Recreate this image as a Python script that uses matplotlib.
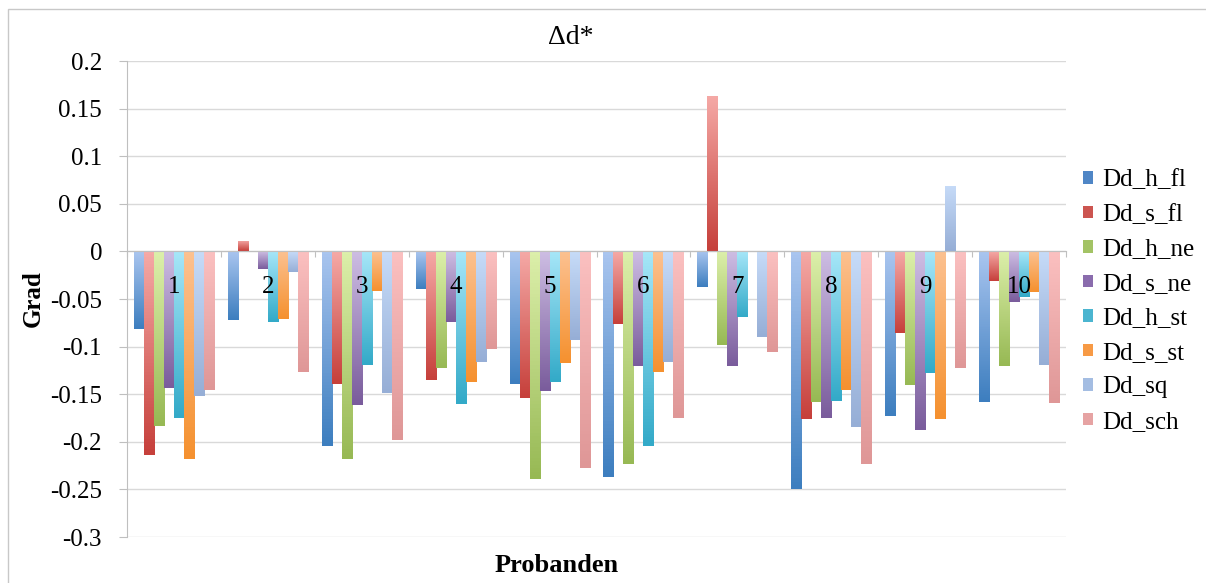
import numpy as np
import matplotlib
matplotlib.use('Agg')
import matplotlib.pyplot as plt
import matplotlib.transforms as mtransforms
from matplotlib.colors import LinearSegmentedColormap
from matplotlib.patches import Patch, Rectangle

plt.rcParams['font.family'] = ['Liberation Serif', 'DejaVu Serif']

probanden = ['1', '2', '3', '4', '5', '6', '7', '8', '9', '10']
names = ['Dd_h_fl', 'Dd_s_fl', 'Dd_h_ne', 'Dd_s_ne', 'Dd_h_st', 'Dd_s_st', 'Dd_sq', 'Dd_sch']

dd_h_fl = [-0.081, -0.072, -0.204, -0.039, -0.139, -0.237, -0.037, -0.250, -0.173, -0.158]
dd_s_fl = [-0.214, 0.011, -0.139, -0.135, -0.154, -0.076, 0.163, -0.176, -0.086, -0.031]
dd_h_ne = [-0.183, 0.0, -0.218, -0.122, -0.239, -0.223, -0.098, -0.158, -0.140, -0.120]
dd_s_ne = [-0.144, -0.018, -0.161, -0.074, -0.147, -0.120, -0.120, -0.175, -0.188, -0.053]
dd_h_st = [-0.175, -0.074, -0.119, -0.160, -0.137, -0.204, -0.069, -0.157, -0.128, -0.048]
dd_s_st = [-0.218, -0.071, -0.042, -0.137, -0.117, -0.127, 0.0, -0.146, -0.176, -0.043]
dd_sq = [-0.152, -0.022, -0.149, -0.116, -0.093, -0.116, -0.090, -0.184, 0.069, -0.119]
dd_sch = [-0.146, -0.127, -0.198, -0.102, -0.228, -0.175, -0.106, -0.223, -0.122, -0.159]

series = [dd_h_fl, dd_s_fl, dd_h_ne, dd_s_ne, dd_h_st, dd_s_st, dd_sq, dd_sch]

# light (top) / dark (bottom) gradient colours, excel style
tops = ['#a9c5ef', '#f5a9a6', '#dcefaa', '#cdbde3', '#a6e6f8', '#fcc190', '#c6dbf8', '#fbc0c0']
bots = ['#3d7ebf', '#c6403b', '#97b954', '#7a5c9c', '#33aac8', '#f5912f', '#96aed6', '#df9797']
legcols = ['#4f86c6', '#cc5550', '#a3c365', '#8a6cad', '#4bb5d0', '#f79a45', '#a4bde2', '#e6a3a3']

fig = plt.figure(figsize=(12.06, 5.83), dpi=100)
ax = fig.add_axes([127 / 1206, 1 - 537 / 583, (1066 - 127) / 1206, (537 - 61) / 583])

x = np.arange(len(probanden))
w = 0.1065
for k in range(len(series)):
    off = (k - 3.5) * w
    bars = ax.bar(x + off, series[k], w, color=bots[k], zorder=2, linewidth=0)
    cmap = LinearSegmentedColormap.from_list('g' + str(k), [bots[k], tops[k]])
    grad = np.linspace(0, 1, 64).reshape(-1, 1)
    for b in bars:
        h = b.get_height()
        if h == 0:
            continue
        x0, y0 = b.get_xy()
        im = ax.imshow(grad, extent=(x0, x0 + b.get_width(), min(y0, y0 + h), max(y0, y0 + h)),
                       origin='lower', cmap=cmap, aspect='auto', zorder=3)
        im.set_clip_path(b)

ax.set_xlim(-0.5, 9.5)
ax.set_ylim(-0.3, 0.2)
ax.set_yticks(np.arange(-0.3, 0.2001, 0.05))
ax.set_yticklabels(['-0.3', '-0.25', '-0.2', '-0.15', '-0.1', '-0.05', '0', '0.05', '0.1', '0.15', '0.2'])
ax.yaxis.grid(True, color='#d9d9d9', linewidth=1)
ax.set_axisbelow(True)

ax.spines['top'].set_visible(False)
ax.spines['right'].set_visible(False)
ax.spines['left'].set_color('#bfbfbf')
ax.spines['bottom'].set_position(('data', 0))
ax.spines['bottom'].set_color('#bfbfbf')
ax.spines['bottom'].set_zorder(4)

ax.set_xticks(np.arange(-0.5, 10, 1))
ax.set_xticklabels([])
ax.tick_params(axis='x', which='major', direction='out', length=4.5, color='#bfbfbf')
ax.tick_params(axis='y', direction='out', length=6, color='#bfbfbf', pad=12, labelsize=18)

# category labels sit on top of the bars, just under the zero line
lab_tr = mtransforms.offset_copy(ax.transData, fig=fig, x=0, y=-36, units='dots')
for i in range(len(probanden)):
    ax.text(x[i], 0, probanden[i], transform=lab_tr, ha='center', va='center',
            fontsize=18, zorder=10)

fig.text(571 / 1206, 1 - 38 / 583, 'Δd*', ha='center', va='center', fontsize=20)
fig.text(557 / 1206, 1 - 565 / 583, 'Probanden', ha='center', va='center', fontsize=19, fontweight='bold')
fig.text(33 / 1206, 1 - 299 / 583, 'Grad', ha='center', va='center', fontsize=18, fontweight='bold', rotation=90)

handles = [Patch(facecolor=legcols[k], edgecolor='none') for k in range(len(names))]
fig.legend(handles, names, loc='center left', bbox_to_anchor=(1083 / 1206, 1 - 301 / 583),
           frameon=False, fontsize=18, handlelength=0.4, handleheight=0.4, handletextpad=0.35,
           labelspacing=0.5, borderpad=0, borderaxespad=0)

fig.patches.append(Rectangle((8 / 1206, -0.1), 1.2, 1 - 9 / 583 + 0.1, transform=fig.transFigure,
                             fill=False, edgecolor='#c8c8c8', linewidth=1))

fig.savefig('out.png', dpi=100)
